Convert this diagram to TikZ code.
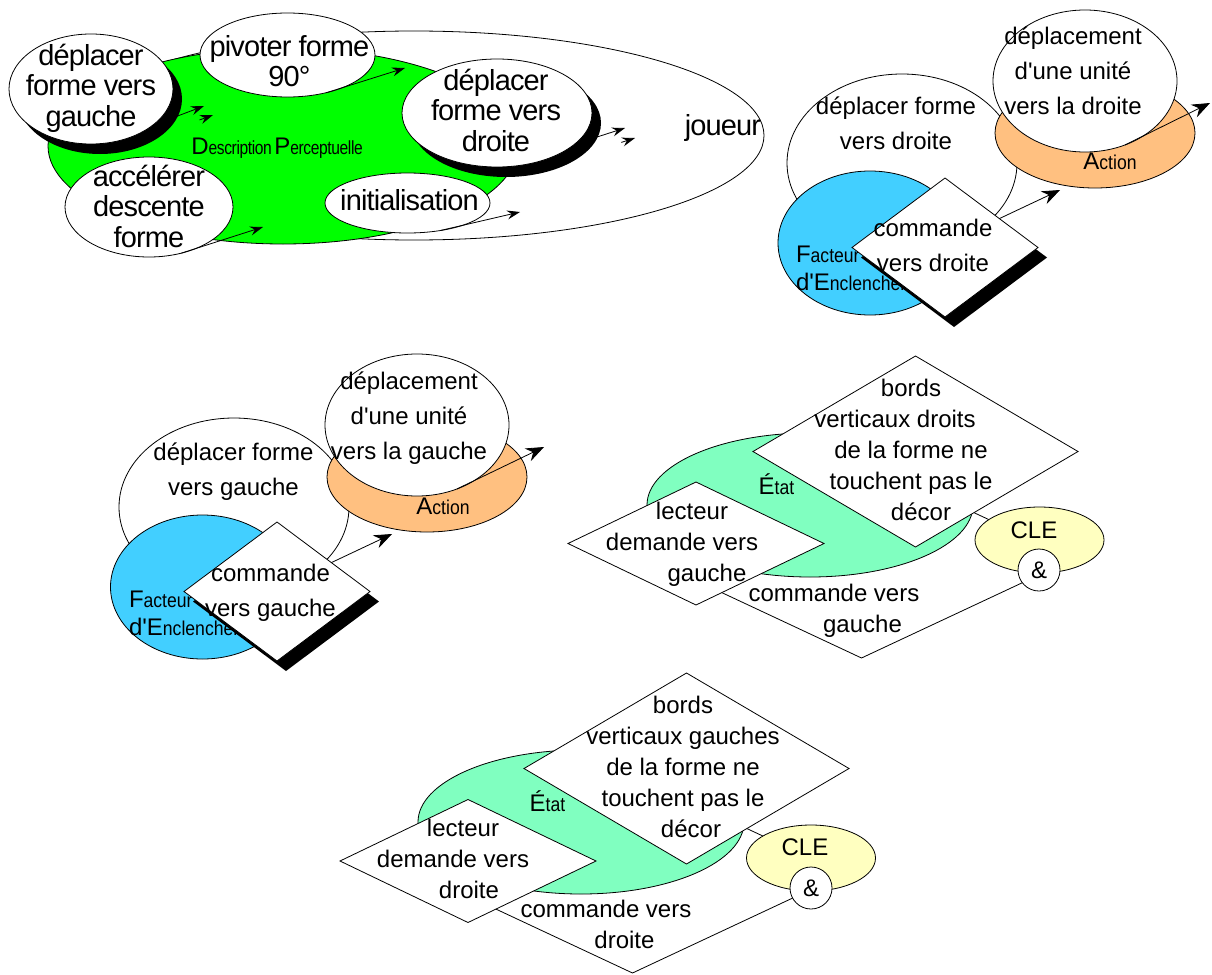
\documentclass[tikz,border=0pt]{standalone}
\usepackage{fontspec}
\setmainfont{Liberation Sans}
\newfontfamily\tassefont[LetterSpace=-3.0]{Liberation Sans}
\newfontfamily\tasseetroit[FakeStretch=0.82,LetterSpace=-2.0]{Liberation Sans}
\newfontfamily\etroitfont[FakeStretch=0.88]{Liberation Sans}
\usetikzlibrary{shapes.geometric,shadows,arrows.meta}

\definecolor{vertvif}{RGB}{0,255,0}
\definecolor{bleuciel}{RGB}{66,207,255}
\definecolor{orangeclair}{RGB}{255,192,128}
\definecolor{vertdeau}{RGB}{128,255,192}
\definecolor{jaunepale}{RGB}{255,255,192}

\newcommand{\initiale}[2]{{\fontsize{24}{24}\selectfont #1}{\etroitfont\fontsize{20}{20}\selectfont #2}}
\newcommand{\initialetasse}[2]{{\tassefont\fontsize{24}{24}\selectfont #1}{\tasseetroit\fontsize{19}{19}\selectfont #2}}

\begin{document}
\begin{tikzpicture}[x=1pt,y=-1pt,
  every node/.style={inner sep=0pt,outer sep=0pt},
  bulle/.style={ellipse,draw,line width=0.8pt,fill=white},
  losange/.style={diamond,draw,line width=0.8pt,fill=white},
  ombre/.style={drop shadow={shadow xshift=9pt,shadow yshift=-10pt,fill=black,opacity=1}},
  tasse/.style={font=\tassefont\fontsize{29}{30.5}\selectfont,align=center},
  texte/.style={font=\fontsize{24}{35}\selectfont,align=center},
  textediam/.style={font=\fontsize{24}{31}\selectfont,align=center},
  fleche/.style={line width=0.8pt,-{Stealth[length=18pt,width=14pt,inset=6pt]}},
  petitefleche/.style={line width=0.8pt,-{Stealth[length=13pt,width=9pt,inset=4.5pt]}}]

\path[use as bounding box,fill=white] (0,0) rectangle (1212,974);

% joueur et description perceptuelle
\node[bulle,minimum width=700pt,minimum height=209pt] (joueur) at (414,135.5) {};
\node[ellipse,draw,line width=0.8pt,fill=vertvif,minimum width=470pt,minimum height=196pt] (descr) at (283,146) {};
\node[font=\tassefont] (descrtxt) at (277,148) {\initialetasse{D}{escription} \initialetasse{P}{erceptuelle}};
\node[tasse] (joueurtxt) at (723,128) {joueur};

\node[bulle,ombre,minimum width=164pt,minimum height=110pt] (dg) at (91,89) {};
\node[tasse] (dgtxt) at (91,88) {déplacer\\forme vers\\gauche};
\node[bulle,minimum width=175pt,minimum height=84pt] (piv) at (287.5,55) {};
\node[tasse] (pivtxt) at (289.5,61) {pivoter forme\\90°};
\node[bulle,ombre,minimum width=190pt,minimum height=108pt] (dd) at (497,113) {};
\node[tasse] (ddtxt) at (496,110) {déplacer\\forme vers\\droite};
\node[bulle,minimum width=168pt,minimum height=100pt] (acc) at (149,207) {};
\node[tasse] (acctxt) at (149,206) {accélérer\\descente\\forme};
\node[bulle,minimum width=165pt,minimum height=60pt] (ini) at (407.5,203) {};
\node[tasse] (initxt) at (409.5,200) {initialisation};

\coordinate (b1) at (204,106);
\coordinate (b1o) at (213,115);
\coordinate (b2) at (625,128);
\coordinate (b2o) at (635,138);
\coordinate (b3) at (405,68);
\coordinate (b4) at (263,227);
\coordinate (b5) at (520,212);
\draw[petitefleche] (dg.-31) -- (b1);
\draw[petitefleche] ([shift={(-13.5,5)}]b1o) -- (b1o);
\draw[petitefleche] (dd.-22) -- (b2);
\draw[petitefleche] ([shift={(-13.7,4.4)}]b2o) -- (b2o);
\draw[petitefleche] (piv.-43) -- (b3);
\draw[petitefleche] (acc.-55) -- (b4);
\draw[petitefleche] (ini.-40) -- (b5);

% deplacer forme vers droite
\node[bulle,minimum width=230pt,minimum height=178pt] (evtd) at (902,163) {};
\node[texte] (evtdtxt) at (896,123) {déplacer forme\\vers droite};
\node[ellipse,draw,line width=0.8pt,fill=bleuciel,minimum width=184pt,minimum height=144pt] (facd) at (870,243) {};
\node[font=\fontsize{24}{28}\selectfont,align=left,anchor=west] (facdtxt) at (796,268) {\initiale{F}{acteur}\\\initiale{d\textquotesingle E}{nclenchement}};
\node[losange,ombre,minimum width=186pt,minimum height=139pt] (cmdd) at (945,247.5) {};
\node[texte] (cmddtxt) at (933,245) {commande\\vers droite};
\node[ellipse,draw,line width=0.8pt,fill=orangeclair,minimum width=200pt,minimum height=110pt] (actd) at (1095,133) {};
\node (actdtxt) at (1110,161.5) {\initiale{A}{ction}};
\node[bulle,minimum width=184pt,minimum height=142pt] (dud) at (1085,81) {};
\node[texte] (dudtxt) at (1073,70.4) {déplacement\\d\textquotesingle une unité\\vers la droite};
\coordinate (b6) at (1060,190);
\coordinate (b7) at (1210,103);
\draw[fleche] (cmdd.28) -- (b6);
\draw[fleche] (dud.-58) -- (b7);

% deplacer forme vers gauche
\node[bulle,minimum width=230pt,minimum height=178pt] (evtg) at (234,507) {};
\node[texte] (evtgtxt) at (233.5,471.3) {déplacer forme\\vers gauche};
\node[ellipse,draw,line width=0.8pt,fill=bleuciel,minimum width=184pt,minimum height=144pt] (facg) at (202.5,587) {};
\node[font=\fontsize{24}{28}\selectfont,align=left,anchor=west] (facgtxt) at (129,613) {\initiale{F}{acteur}\\\initiale{d\textquotesingle E}{nclenchement}};
\node[losange,ombre,minimum width=186pt,minimum height=139pt] (cmdg) at (277,591.5) {};
\node[texte] (cmdgtxt) at (270.5,592.4) {commande\\vers gauche};
\node[ellipse,draw,line width=0.8pt,fill=orangeclair,minimum width=200pt,minimum height=110pt] (actg) at (427,477) {};
\node (actgtxt) at (443,506.5) {\initiale{A}{ction}};
\node[bulle,minimum width=184pt,minimum height=142pt] (dug) at (417,425) {};
\node[texte] (dugtxt) at (409,418) {déplacement\\d\textquotesingle une unité\\vers la gauche};
\coordinate (b8) at (392,534);
\coordinate (b9) at (544,447);
\draw[fleche] (cmdg.28) -- (b8);
\draw[fleche] (dug.-58) -- (b9);

% etat, bords droits
\node[losange,minimum width=423pt,minimum height=198pt] (cmdcg) at (861.5,559) {};
\node[ellipse,draw,line width=0.8pt,fill=vertdeau,minimum width=326pt,minimum height=144pt] (etatg) at (810,505) {};
\node (etatgtxt) at (776.5,484) {\initiale{É}{tat}};
\node[losange,minimum width=325pt,minimum height=191pt] (bordsd) at (915.5,451.5) {};
\node[textediam] (bordsdtxt) at (911,449.5) {bords\\verticaux droits\hspace*{32pt}\null\\de la forme ne\\touchent pas le\\\hspace*{20pt}décor};
\node[losange,minimum width=256pt,minimum height=123pt] (lectg) at (696,543.5) {};
\node[textediam] (lectgtxt) at (692,544) {lecteur\\demande vers\hspace*{20pt}\null\\\hspace*{30pt}gauche};
\node[ellipse,draw,line width=0.8pt,fill=jaunepale,minimum width=129pt,minimum height=66pt] (cleg) at (1039.5,540) {};
\node[font=\fontsize{24}{24}\selectfont] (clegtxt) at (1034,530) {CLE};
\node[circle,draw,line width=0.8pt,fill=white,minimum size=42pt,font=\fontsize{24}{24}\selectfont] (etg) at (1039,570) {\&};
\node[textediam] (cmdcgtxt) at (848,610.4) {commande vers\hspace*{28pt}\null\\\hspace*{29pt}gauche};

% etat, bords gauches
\node[losange,minimum width=423pt,minimum height=198pt] (cmdcd) at (632.5,874) {};
\node[ellipse,draw,line width=0.8pt,fill=vertdeau,minimum width=326pt,minimum height=144pt] (etatd) at (581,822) {};
\node (etatdtxt) at (547.5,801) {\initiale{É}{tat}};
\node[losange,minimum width=325pt,minimum height=191pt] (bordsg) at (686.5,768.5) {};
\node[textediam] (bordsgtxt) at (683,766.5) {bords\\verticaux gauches\\de la forme ne\\touchent pas le\\\hspace*{16pt}décor};
\node[losange,minimum width=256pt,minimum height=123pt] (lectd) at (468,861) {};
\node[textediam] (lectdtxt) at (463,859.4) {lecteur\\demande vers\hspace*{20pt}\null\\\hspace*{12pt}droite};
\node[ellipse,draw,line width=0.8pt,fill=jaunepale,minimum width=129pt,minimum height=66pt] (cled) at (811,858) {};
\node[font=\fontsize{24}{24}\selectfont] (cledtxt) at (805,847.5) {CLE};
\node[circle,draw,line width=0.8pt,fill=white,minimum size=42pt,font=\fontsize{24}{24}\selectfont] (etd) at (811,888) {\&};
\node[textediam] (cmdcdtxt) at (615,924.5) {commande vers\hspace*{18pt}\null\\\hspace*{19pt}droite};
\end{tikzpicture}
\end{document}
